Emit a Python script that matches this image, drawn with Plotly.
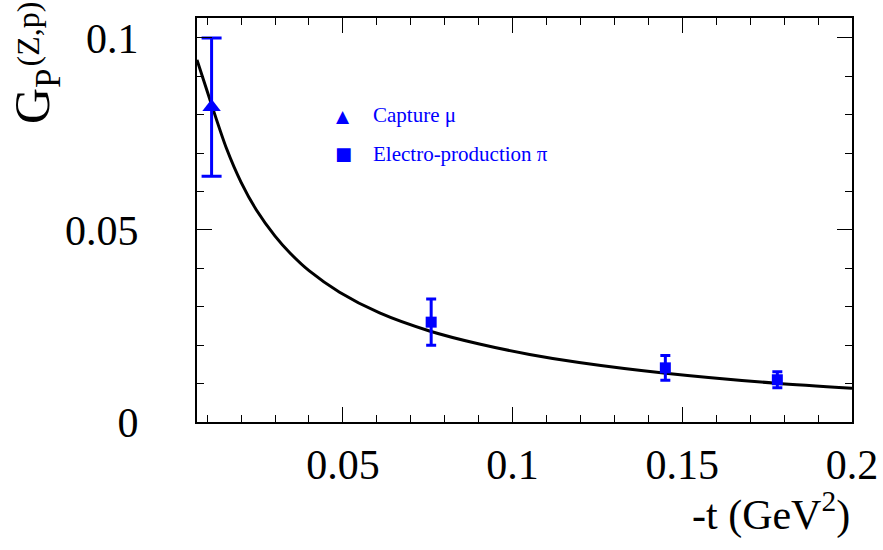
import plotly.graph_objects as go

# ---- data ----
mu_t = [0.0113]
mu_gp = [0.082]
mu_err = [0.018]

pi_t = [0.076, 0.145, 0.178]
pi_gp = [0.026, 0.0141, 0.0110]
pi_err = [0.006, 0.0032, 0.0021]

curve_t = [0.007, 0.0113, 0.0157, 0.02, 0.0245, 0.03, 0.0344, 0.04, 0.049,
           0.0608, 0.0755, 0.0902, 0.105, 0.1196, 0.1451, 0.1775, 0.2]
curve_gp = [0.0943, 0.0826, 0.0712, 0.0624, 0.0552, 0.0484, 0.0440, 0.0394,
            0.0338, 0.0284, 0.0237, 0.0203, 0.0176, 0.0155, 0.0127, 0.0101,
            0.0088]

x_ticks = [0.05, 0.1, 0.15, 0.2]
x_ticklabels = ["0.05", "0.1", "0.15", "0.2"]
y_ticks = [0, 0.05, 0.1]
y_ticklabels = ["0", "0.05", "0.1"]

BLUE = "#0000ff"
FONT = "Liberation Serif"

fig = go.Figure()

fig.add_trace(go.Scatter(
    x=curve_t, y=curve_gp, mode="lines",
    line=dict(color="black", width=3, shape="spline", smoothing=0.8),
    showlegend=False, hoverinfo="skip"))

fig.add_trace(go.Scatter(
    x=mu_t, y=mu_gp, mode="markers",
    marker=dict(symbol="triangle-up", size=16, color=BLUE),
    error_y=dict(type="data", array=mu_err, color=BLUE, thickness=3, width=10),
    showlegend=False))

fig.add_trace(go.Scatter(
    x=pi_t, y=pi_gp, mode="markers",
    marker=dict(symbol="square", size=11, color=BLUE),
    error_y=dict(type="data", array=pi_err, color=BLUE, thickness=3, width=5),
    showlegend=False))

L, R, T, B = 197, 31, 18, 128
W, H = 883, 550
pw, ph = W - L - R, H - T - B

def px_x(p):
    return (p - L) / pw

def px_y(p):
    return 1 - (p - T) / ph

axis_common = dict(
    showline=True, linecolor="black", linewidth=2, mirror="allticks",
    ticks="inside", tickcolor="black", tickwidth=1, ticklen=15,
    showgrid=False, zeroline=False,
    tickfont=dict(family=FONT, size=42, color="black"),
)

fig.update_xaxes(
    range=[0.007, 0.2], tickvals=x_ticks, ticktext=x_ticklabels,
    minor=dict(dtick=0.01, tick0=0, ticks="inside", ticklen=7,
               tickcolor="black", tickwidth=1, showgrid=False),
    ticklabelstandoff=5,
    **axis_common)
fig.update_yaxes(
    range=[0, 0.1052], tickvals=y_ticks, ticktext=y_ticklabels,
    minor=dict(dtick=0.01, tick0=0, ticks="inside", ticklen=7,
               tickcolor="black", tickwidth=1, showgrid=False),
    ticklabelstandoff=48,
    **axis_common)

annotations = [
    dict(text="-t (GeV<sup>2</sup>)", xref="paper", yref="paper",
         x=px_x(852), y=px_y(541), xanchor="right", yanchor="bottom",
         showarrow=False, font=dict(family=FONT, size=42, color="black")),
    dict(text="G<sub>P</sub>",
         xref="paper", yref="paper", textangle=-90,
         x=px_x(36), y=px_y(126), xanchor="center", yanchor="bottom",
         showarrow=False, font=dict(family=FONT, size=50, color="black")),
    dict(text="(Z,p)",
         xref="paper", yref="paper", textangle=-90,
         x=px_x(28), y=px_y(0), xanchor="center", yanchor="top",
         showarrow=False, font=dict(family=FONT, size=32, color="black")),
    dict(text="▲", xref="paper", yref="paper", x=px_x(343), y=px_y(116),
         xanchor="center", yanchor="middle", showarrow=False,
         font=dict(family="DejaVu Sans", size=17, color=BLUE)),
    dict(text="■", xref="paper", yref="paper", x=px_x(343), y=px_y(153),
         xanchor="center", yanchor="middle", showarrow=False,
         font=dict(family="DejaVu Sans", size=18, color=BLUE)),
    dict(text="Capture μ", xref="paper", yref="paper", x=px_x(371), y=px_y(115),
         xanchor="left", yanchor="middle", showarrow=False,
         font=dict(family=FONT, size=21, color=BLUE)),
    dict(text="Electro-production π", xref="paper", yref="paper", x=px_x(371),
         y=px_y(154), xanchor="left", yanchor="middle", showarrow=False,
         font=dict(family=FONT, size=21, color=BLUE)),
]

fig.update_layout(
    width=W, height=H, margin=dict(l=L, r=R, t=T, b=B, autoexpand=False),
    paper_bgcolor="white", plot_bgcolor="white",
    annotations=annotations, showlegend=False,
)

fig.write_html("out.html")
